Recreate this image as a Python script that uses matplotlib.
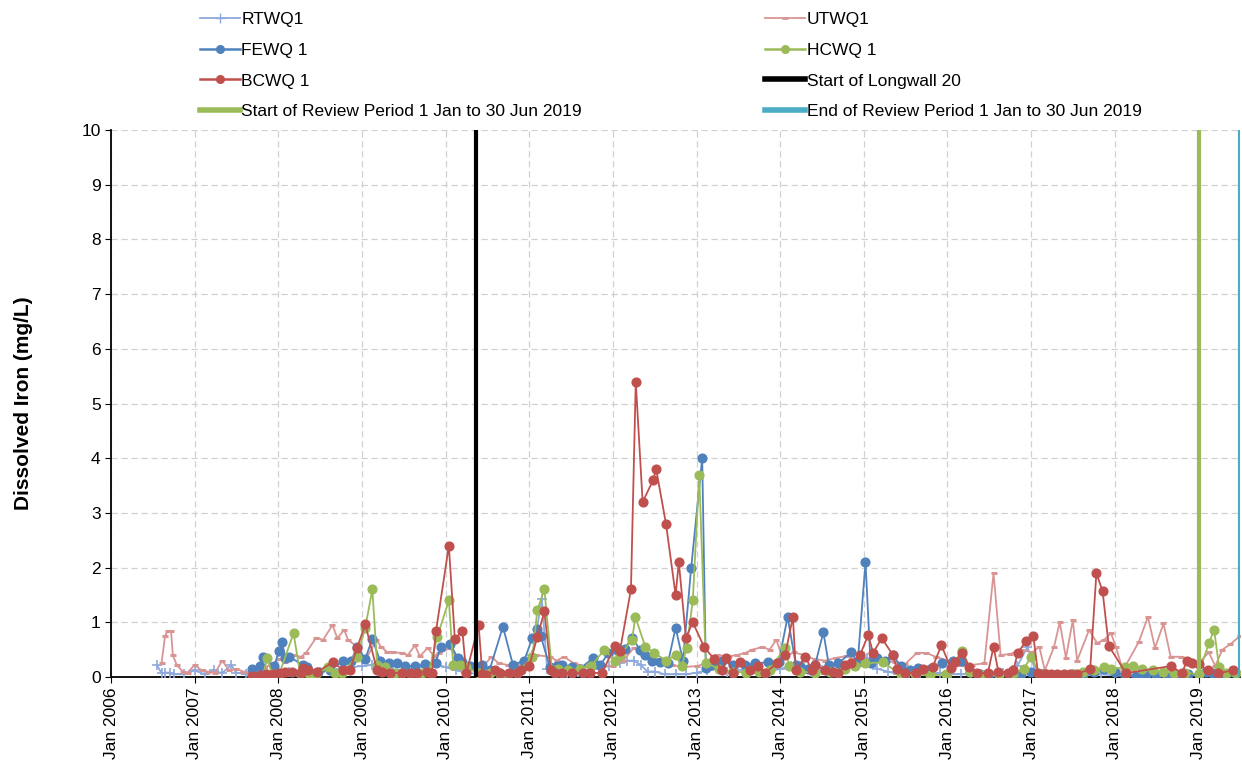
import matplotlib
matplotlib.use("Agg")
import matplotlib.pyplot as plt
import matplotlib.dates as mdates
import pandas as pd
from matplotlib.lines import Line2D

plt.rcParams['font.family'] = ['Liberation Sans', 'DejaVu Sans']

# ── Data ──────────────────────────────────────────────────────────────────────

rtwq_dates = ["2006-07-20", "2006-08-10", "2006-08-25", "2006-09-15", "2006-10-01", "2006-11-15",
              "2007-01-01", "2007-02-15", "2007-03-25", "2007-05-01", "2007-06-10", "2007-07-01",
              "2007-08-15", "2007-10-01", "2007-11-15", "2008-01-01", "2008-02-15", "2008-04-01",
              "2008-05-15", "2008-07-01", "2008-08-15", "2008-10-01", "2008-11-15", "2009-01-01",
              "2009-02-15", "2009-04-01", "2009-05-15", "2009-07-01", "2009-08-15", "2009-10-01",
              "2009-11-10", "2010-01-01", "2010-02-15", "2010-04-01", "2010-06-01", "2010-07-15",
              "2010-09-01", "2010-10-15", "2010-12-01", "2011-01-15", "2011-02-25", "2011-03-20",
              "2011-05-01", "2011-06-15", "2011-08-01", "2011-09-15", "2011-11-01", "2011-12-15",
              "2012-02-01", "2012-03-01", "2012-04-01", "2012-05-01", "2012-06-01", "2012-07-01",
              "2012-08-15", "2012-10-01", "2012-11-15", "2013-01-01", "2013-02-15", "2013-04-01",
              "2013-05-15", "2013-07-01", "2013-08-15", "2013-10-01", "2013-11-15", "2014-01-01",
              "2014-02-15", "2014-04-01", "2014-05-15", "2014-07-01", "2014-08-15", "2014-10-01",
              "2014-11-15", "2015-01-15", "2015-03-01", "2015-04-15", "2015-06-01", "2015-07-15",
              "2015-09-01", "2015-10-15", "2015-12-01", "2016-01-15", "2016-03-01", "2016-05-01",
              "2016-07-01", "2016-09-01", "2016-11-01", "2016-12-15", "2017-01-20", "2017-03-01",
              "2017-05-01", "2017-07-01", "2017-09-01", "2017-11-01", "2018-01-01", "2018-03-01",
              "2018-05-01", "2018-07-01", "2018-09-01", "2018-11-01", "2019-01-01", "2019-03-01",
              "2019-05-01"]
rtwq_vals = [0.22, 0.07, 0.08, 0.08, 0.05, 0.05,
             0.12, 0.05, 0.12, 0.07, 0.22, 0.08,
             0.05, 0.08, 0.10, 0.12, 0.10, 0.12,
             0.08, 0.10, 0.12, 0.15, 0.18, 0.20,
             0.22, 0.15, 0.12, 0.12, 0.15, 0.20,
             0.25, 0.18, 0.12, 0.08, 0.05, 0.05,
             0.08, 0.10, 0.20, 0.40, 1.42, 0.15,
             0.10, 0.08, 0.10, 0.12, 0.15, 0.20,
             0.25, 0.30, 0.30, 0.22, 0.10, 0.10,
             0.05, 0.05, 0.05, 0.08, 0.12, 0.15,
             0.10, 0.12, 0.10, 0.12, 0.10, 0.15,
             0.20, 0.12, 0.10, 0.12, 0.10, 0.15,
             0.20, 0.35, 0.15, 0.10, 0.05, 0.05,
             0.05, 0.05, 0.08, 0.05, 0.05, 0.05,
             0.05, 0.08, 0.20, 0.55, 0.10, 0.03,
             0.03, 0.03, 0.03, 0.05, 0.03, 0.02,
             0.02, 0.03, 0.02, 0.03, 0.03, 0.03,
             0.03]

utwq_dates = ["2006-08-10", "2006-08-25", "2006-09-05", "2006-09-20", "2006-09-28", "2006-10-15",
              "2006-11-10", "2006-12-01", "2007-01-01", "2007-02-01", "2007-03-01", "2007-04-01",
              "2007-05-01", "2007-06-01", "2007-07-01", "2007-08-01", "2007-09-01", "2007-10-01",
              "2007-11-01", "2007-12-01", "2008-01-05", "2008-02-01", "2008-03-05", "2008-04-10",
              "2008-05-01", "2008-06-15", "2008-07-15", "2008-08-25", "2008-09-15", "2008-10-15",
              "2008-11-01", "2008-12-10", "2009-01-15", "2009-03-05", "2009-03-25", "2009-04-20",
              "2009-05-15", "2009-06-25", "2009-07-20", "2009-08-20", "2009-09-10", "2009-10-15",
              "2009-11-10", "2009-12-05", "2010-01-20", "2010-02-15", "2010-03-25", "2010-05-01",
              "2010-06-15", "2010-07-20", "2010-08-20", "2010-10-01", "2010-11-15", "2011-01-01",
              "2011-02-01", "2011-04-01", "2011-05-01", "2011-06-01", "2011-07-15", "2011-09-01",
              "2011-11-01", "2012-01-01", "2012-02-15", "2012-04-01", "2012-05-15", "2012-06-15",
              "2012-08-01", "2012-09-15", "2012-11-01", "2013-01-01", "2013-02-15", "2013-04-01",
              "2013-05-20", "2013-06-25", "2013-08-01", "2013-09-01", "2013-10-15", "2013-11-15",
              "2013-12-15", "2014-01-10", "2014-03-01", "2014-04-15", "2014-06-01", "2014-07-15",
              "2014-09-01", "2014-10-15", "2014-12-01", "2015-02-01", "2015-03-15", "2015-05-15",
              "2015-07-01", "2015-08-20", "2015-10-01", "2015-11-10", "2016-01-01", "2016-03-01",
              "2016-04-15", "2016-06-10", "2016-07-20", "2016-08-20", "2016-10-01", "2016-11-15",
              "2017-01-05", "2017-02-05", "2017-03-01", "2017-04-10", "2017-05-05", "2017-06-01",
              "2017-07-01", "2017-07-20", "2017-09-10", "2017-10-15", "2017-11-15", "2017-12-15",
              "2018-01-05", "2018-02-05", "2018-04-15", "2018-05-25", "2018-06-25", "2018-08-01",
              "2018-09-01", "2018-10-15", "2018-11-20", "2019-01-01", "2019-02-15", "2019-03-15",
              "2019-04-15", "2019-05-20", "2019-07-01"]
utwq_vals = [0.26, 0.75, 0.84, 0.84, 0.40, 0.22,
             0.10, 0.08, 0.22, 0.12, 0.10, 0.08,
             0.30, 0.12, 0.15, 0.10, 0.08, 0.12,
             0.18, 0.22, 0.32, 0.28, 0.40, 0.37,
             0.44, 0.72, 0.68, 0.95, 0.71, 0.86,
             0.68, 0.55, 0.30, 0.68, 0.55, 0.46,
             0.45, 0.44, 0.40, 0.58, 0.38, 0.53,
             0.38, 0.44, 0.53, 0.37, 0.18, 0.15,
             0.20, 0.37, 0.25, 0.22, 0.25, 0.35,
             0.40, 0.37, 0.30, 0.37, 0.25, 0.20,
             0.22, 0.20, 0.30, 0.53, 0.45, 0.35,
             0.30, 0.22, 0.18, 0.20, 0.25, 0.40,
             0.38, 0.40, 0.44, 0.50, 0.55, 0.50,
             0.68, 0.35, 0.45, 0.40, 0.32, 0.30,
             0.35, 0.38, 0.30, 0.32, 0.30, 0.27,
             0.24, 0.44, 0.44, 0.37, 0.30, 0.22,
             0.22, 0.25, 1.90, 0.40, 0.42, 0.50,
             0.45, 0.55, 0.12, 0.55, 1.00, 0.35,
             1.04, 0.30, 0.86, 0.62, 0.68, 0.80,
             0.55, 0.12, 0.64, 1.10, 0.53, 0.98,
             0.37, 0.37, 0.32, 0.25, 0.45, 0.20,
             0.50, 0.60, 0.75]

fewq_dates = ["2007-09-10", "2007-10-12", "2007-10-25", "2007-12-15", "2008-01-04", "2008-01-18",
              "2008-02-01", "2008-02-18", "2008-04-18", "2008-05-04", "2008-06-23", "2008-08-15",
              "2008-10-12", "2008-11-15", "2008-12-10", "2009-01-15", "2009-02-15", "2009-03-20",
              "2009-04-28", "2009-06-02", "2009-07-08", "2009-08-20", "2009-10-05", "2009-11-18",
              "2009-12-10", "2010-01-22", "2010-02-22", "2010-03-15", "2010-04-18", "2010-06-10",
              "2010-07-12", "2010-09-08", "2010-10-22", "2010-12-10", "2011-01-15", "2011-02-05",
              "2011-02-20", "2011-04-01", "2011-05-01", "2011-05-22", "2011-07-05", "2011-08-10",
              "2011-10-08", "2011-11-08", "2011-12-12", "2012-01-20", "2012-02-22", "2012-03-25",
              "2012-04-28", "2012-05-22", "2012-06-20", "2012-07-25", "2012-08-28", "2012-10-01",
              "2012-11-02", "2012-12-08", "2013-01-25", "2013-02-10", "2013-03-10", "2013-04-22",
              "2013-06-10", "2013-08-01", "2013-09-12", "2013-11-10", "2013-12-25", "2014-02-02",
              "2014-03-10", "2014-03-28", "2014-05-02", "2014-06-02", "2014-07-08", "2014-08-01",
              "2014-09-12", "2014-11-05", "2014-12-05", "2015-01-08", "2015-01-30", "2015-03-01",
              "2015-04-01", "2015-05-08", "2015-06-10", "2015-07-22", "2015-08-25", "2015-10-18",
              "2015-12-10", "2016-01-25", "2016-03-05", "2016-04-10", "2016-05-22", "2016-07-01",
              "2016-08-15", "2016-10-01", "2016-11-15", "2017-01-01", "2017-02-15", "2017-04-01",
              "2017-05-15", "2017-07-01", "2017-08-15", "2017-10-01", "2017-11-15", "2018-01-01",
              "2018-02-15", "2018-04-01", "2018-05-15", "2018-07-01", "2018-08-15", "2018-10-01",
              "2018-11-15", "2019-01-01", "2019-02-01", "2019-03-01", "2019-04-01", "2019-05-01",
              "2019-06-01"]
fewq_vals = [0.15, 0.20, 0.37, 0.20, 0.48, 0.64,
             0.35, 0.37, 0.22, 0.18, 0.10, 0.12,
             0.30, 0.30, 0.55, 0.33, 0.70, 0.30,
             0.25, 0.25, 0.20, 0.20, 0.23, 0.25,
             0.55, 0.60, 0.35, 0.27, 0.20, 0.22,
             0.13, 0.92, 0.22, 0.30, 0.72, 0.88,
             0.75, 0.18, 0.20, 0.22, 0.18, 0.15,
             0.35, 0.22, 0.44, 0.50, 0.52, 0.72,
             0.50, 0.40, 0.30, 0.28, 0.25, 0.90,
             0.30, 2.00, 4.00, 0.17, 0.22, 0.30,
             0.22, 0.22, 0.25, 0.27, 0.27, 1.10,
             0.22, 0.20, 0.15, 0.22, 0.82, 0.22,
             0.25, 0.45, 0.27, 2.10, 0.25, 0.35,
             0.30, 0.40, 0.20, 0.12, 0.17, 0.15,
             0.25, 0.30, 0.30, 0.10, 0.05, 0.05,
             0.03, 0.05, 0.05, 0.10, 0.05, 0.03,
             0.03, 0.05, 0.05, 0.10, 0.15, 0.10,
             0.03, 0.02, 0.03, 0.03, 0.02, 0.03,
             0.05, 0.05, 0.10, 0.08, 0.05, 0.05,
             0.10]

hcwq_dates = ["2007-10-25", "2007-11-15", "2007-12-05", "2008-01-05", "2008-03-08", "2008-04-05",
              "2008-05-15", "2008-06-15", "2008-08-05", "2008-09-05", "2008-10-05", "2008-12-10",
              "2009-01-15", "2009-02-15", "2009-03-08", "2009-04-10", "2009-05-25", "2009-06-25",
              "2009-07-28", "2009-09-20", "2009-10-20", "2009-11-25", "2010-01-15", "2010-02-03",
              "2010-03-05", "2010-04-01", "2010-05-25", "2010-07-12", "2010-08-25", "2010-10-01",
              "2010-11-10", "2011-01-15", "2011-02-05", "2011-03-08", "2011-04-10", "2011-05-08",
              "2011-06-20", "2011-08-10", "2011-09-28", "2011-11-25", "2012-01-10", "2012-02-01",
              "2012-03-25", "2012-04-08", "2012-05-22", "2012-06-30", "2012-08-20", "2012-10-01",
              "2012-10-28", "2012-11-18", "2012-12-15", "2013-01-12", "2013-02-10", "2013-04-10",
              "2013-06-10", "2013-08-05", "2013-10-01", "2013-11-15", "2014-01-20", "2014-02-10",
              "2014-03-28", "2014-06-02", "2014-08-05", "2014-10-10", "2014-11-25", "2015-01-08",
              "2015-03-25", "2015-06-10", "2015-08-10", "2015-10-18", "2015-12-25", "2016-03-05",
              "2016-04-10", "2016-06-10", "2016-08-15", "2016-10-15", "2016-11-28", "2017-01-01",
              "2017-02-05", "2017-04-01", "2017-05-15", "2017-07-01", "2017-08-15", "2017-10-01",
              "2017-11-15", "2017-12-15", "2018-02-15", "2018-03-20", "2018-05-01", "2018-06-15",
              "2018-08-01", "2018-09-15", "2018-11-01", "2019-01-01", "2019-02-15", "2019-03-10",
              "2019-04-01", "2019-05-01", "2019-06-15"]
hcwq_vals = [0.02, 0.35, 0.05, 0.05, 0.80, 0.08,
             0.05, 0.05, 0.18, 0.07, 0.08, 0.37,
             0.90, 1.60, 0.22, 0.18, 0.08, 0.07,
             0.07, 0.08, 0.10, 0.73, 1.40, 0.22,
             0.22, 0.18, 0.07, 0.08, 0.05, 0.05,
             0.08, 0.37, 1.22, 1.60, 0.13, 0.15,
             0.12, 0.15, 0.20, 0.50, 0.30, 0.40,
             0.68, 1.10, 0.55, 0.44, 0.30, 0.40,
             0.20, 0.53, 1.40, 3.70, 0.25, 0.15,
             0.10, 0.08, 0.10, 0.12, 0.53, 0.20,
             0.10, 0.08, 0.10, 0.15, 0.20, 0.25,
             0.27, 0.05, 0.05, 0.03, 0.05, 0.48,
             0.10, 0.03, 0.03, 0.05, 0.15, 0.37,
             0.05, 0.03, 0.03, 0.05, 0.10, 0.12,
             0.18, 0.15, 0.18, 0.20, 0.15, 0.12,
             0.10, 0.08, 0.08, 0.05, 0.62, 0.86,
             0.18, 0.08, 0.08]

bcwq_dates = ["2007-09-10", "2007-10-12", "2007-11-10", "2007-12-10", "2008-01-05", "2008-02-01",
              "2008-03-01", "2008-04-10", "2008-04-20", "2008-05-10", "2008-06-20", "2008-08-28",
              "2008-10-12", "2008-11-08", "2008-12-10", "2009-01-15", "2009-03-08", "2009-03-28",
              "2009-05-05", "2009-06-25", "2009-07-28", "2009-08-30", "2009-10-10", "2009-11-01",
              "2009-11-20", "2010-01-15", "2010-02-10", "2010-03-15", "2010-04-01", "2010-05-25",
              "2010-06-10", "2010-06-28", "2010-08-05", "2010-08-25", "2010-10-05", "2010-11-10",
              "2010-11-28", "2011-01-01", "2011-02-05", "2011-03-08", "2011-04-05", "2011-04-25",
              "2011-05-25", "2011-07-05", "2011-08-25", "2011-09-25", "2011-11-15", "2012-01-10",
              "2012-02-01", "2012-03-20", "2012-04-10", "2012-05-10", "2012-06-25", "2012-07-08",
              "2012-08-20", "2012-10-01", "2012-10-15", "2012-11-15", "2012-12-15", "2013-02-02",
              "2013-03-18", "2013-04-22", "2013-05-10", "2013-06-10", "2013-07-08", "2013-08-20",
              "2013-09-25", "2013-10-28", "2013-12-18", "2014-01-22", "2014-02-25", "2014-03-10",
              "2014-04-20", "2014-05-20", "2014-06-02", "2014-07-15", "2014-08-20", "2014-09-12",
              "2014-10-12", "2014-11-05", "2014-12-15", "2015-01-20", "2015-02-10", "2015-03-20",
              "2015-05-08", "2015-05-25", "2015-07-01", "2015-08-15", "2015-09-18", "2015-10-28",
              "2015-12-05", "2016-01-15", "2016-02-01", "2016-03-05", "2016-04-05", "2016-05-10",
              "2016-06-25", "2016-07-20", "2016-08-10", "2016-09-20", "2016-10-15", "2016-11-02",
              "2016-12-10", "2017-01-10", "2017-01-30", "2017-03-01", "2017-03-28", "2017-04-25",
              "2017-05-25", "2017-06-20", "2017-07-20", "2017-09-15", "2017-10-12", "2017-11-08",
              "2017-12-05", "2018-02-18", "2018-09-01", "2018-10-22", "2018-11-10", "2018-12-05",
              "2019-01-01", "2019-02-10", "2019-03-28", "2019-06-01"]
bcwq_vals = [0.02, 0.03, 0.05, 0.05, 0.08, 0.10,
             0.10, 0.08, 0.17, 0.12, 0.10, 0.27,
             0.12, 0.12, 0.53, 0.96, 0.12, 0.10,
             0.08, 0.07, 0.07, 0.08, 0.10, 0.08,
             0.84, 2.40, 0.70, 0.84, 0.07, 0.95,
             0.05, 0.03, 0.12, 0.07, 0.07, 0.07,
             0.12, 0.20, 0.73, 1.20, 0.12, 0.07,
             0.07, 0.07, 0.07, 0.07, 0.08, 0.56,
             0.48, 1.60, 5.40, 3.20, 3.60, 3.80,
             2.80, 1.50, 2.10, 0.72, 1.00, 0.55,
             0.33, 0.12, 0.35, 0.08, 0.27, 0.12,
             0.20, 0.08, 0.25, 0.40, 1.10, 0.12,
             0.37, 0.12, 0.22, 0.12, 0.10, 0.08,
             0.22, 0.25, 0.40, 0.77, 0.44, 0.71,
             0.40, 0.15, 0.08, 0.08, 0.15, 0.18,
             0.58, 0.17, 0.27, 0.44, 0.18, 0.07,
             0.07, 0.55, 0.10, 0.07, 0.12, 0.44,
             0.66, 0.75, 0.07, 0.05, 0.05, 0.05,
             0.05, 0.05, 0.05, 0.15, 1.90, 1.57,
             0.57, 0.07, 0.20, 0.07, 0.30, 0.25,
             0.23, 0.12, 0.07, 0.12]

longwall_start = "2010-05-14"
review_start = "2019-01-01"
review_end = "2019-06-30"

x_start, x_end = "2006-01-01", "2019-07-01"

# ── Styles ────────────────────────────────────────────────────────────────────

C_RT = "#8EA9DB"
C_UT = "#D99594"
C_FE = "#4F81BD"
C_HC = "#9BBB59"
C_BC = "#C0504D"
C_END = "#4BACC6"

fig = plt.figure(figsize=(12.42, 7.62), dpi=100)
ax = fig.add_axes([111 / 1242, 85 / 762, 1129 / 1242, 547 / 762])

def _d(lst):
    return pd.to_datetime(lst)

ax.plot(_d(rtwq_dates), rtwq_vals, color=C_RT, lw=1.3, marker="+", ms=7.5, mew=1.2, zorder=3)
ax.plot(_d(utwq_dates), utwq_vals, color=C_UT, lw=1.3, marker="_", ms=5, mew=2.2, zorder=3)
ax.plot(_d(fewq_dates), fewq_vals, color=C_FE, lw=1.3, marker="o", ms=6.3, zorder=4)
ax.plot(_d(hcwq_dates), hcwq_vals, color=C_HC, lw=1.3, marker="o", ms=6.3, zorder=4)
ax.plot(_d(bcwq_dates), bcwq_vals, color=C_BC, lw=1.3, marker="o", ms=6.3, zorder=5)

ax.axvline(pd.Timestamp(longwall_start), color="black", lw=3, zorder=6)
ax.axvline(pd.Timestamp(review_start), color=C_HC, lw=3, zorder=6)
ax.axvline(pd.Timestamp(review_end), color=C_END, lw=3, zorder=6)

ax.set_xlim(pd.Timestamp(x_start), pd.Timestamp(x_end))
ax.set_ylim(0, 10)
ax.set_yticks(range(0, 11))

ax.xaxis.set_major_locator(mdates.YearLocator())
ax.xaxis.set_major_formatter(mdates.DateFormatter("Jan %Y"))
for lbl in ax.get_xticklabels():
    lbl.set_rotation(90)

ax.tick_params(axis="both", labelsize=12.5, direction="out", length=4, color="black")
ax.grid(True, color="#D0D0D0", linestyle=(0, (5, 3)), lw=0.9)
ax.set_axisbelow(True)
for side in ("top", "right"):
    ax.spines[side].set_visible(False)
ax.spines["left"].set_linewidth(1.3)
ax.spines["bottom"].set_linewidth(1.3)

ax.set_ylabel("Dissolved Iron (mg/L)", fontsize=15, fontweight="bold", labelpad=35)

# legend: column-major, so order so rows read like the reference
handles = [
    Line2D([], [], color=C_RT, lw=1.3, marker="+", ms=7),
    Line2D([], [], color=C_FE, lw=1.8, marker="o", ms=5.5),
    Line2D([], [], color=C_BC, lw=1.8, marker="o", ms=5.5),
    Line2D([], [], color=C_HC, lw=4),
    Line2D([], [], color=C_UT, lw=1.3, marker="_", ms=5, mew=2),
    Line2D([], [], color=C_HC, lw=1.8, marker="o", ms=5.5),
    Line2D([], [], color="black", lw=4),
    Line2D([], [], color=C_END, lw=4),
]
labels = ["RTWQ1", "FEWQ 1", "BCWQ 1", "Start of Review Period 1 Jan to 30 Jun 2019",
          "UTWQ1", "HCWQ 1", "Start of Longwall 20", "End of Review Period 1 Jan to 30 Jun 2019"]
fig.legend(handles, labels, ncol=2, loc="upper left", bbox_to_anchor=(184 / 1242, 1.005),
           frameon=False, fontsize=12.5, handlelength=2.3, handletextpad=0.1,
           columnspacing=10.55, labelspacing=0.9)

fig.savefig("out.png", dpi=100)
